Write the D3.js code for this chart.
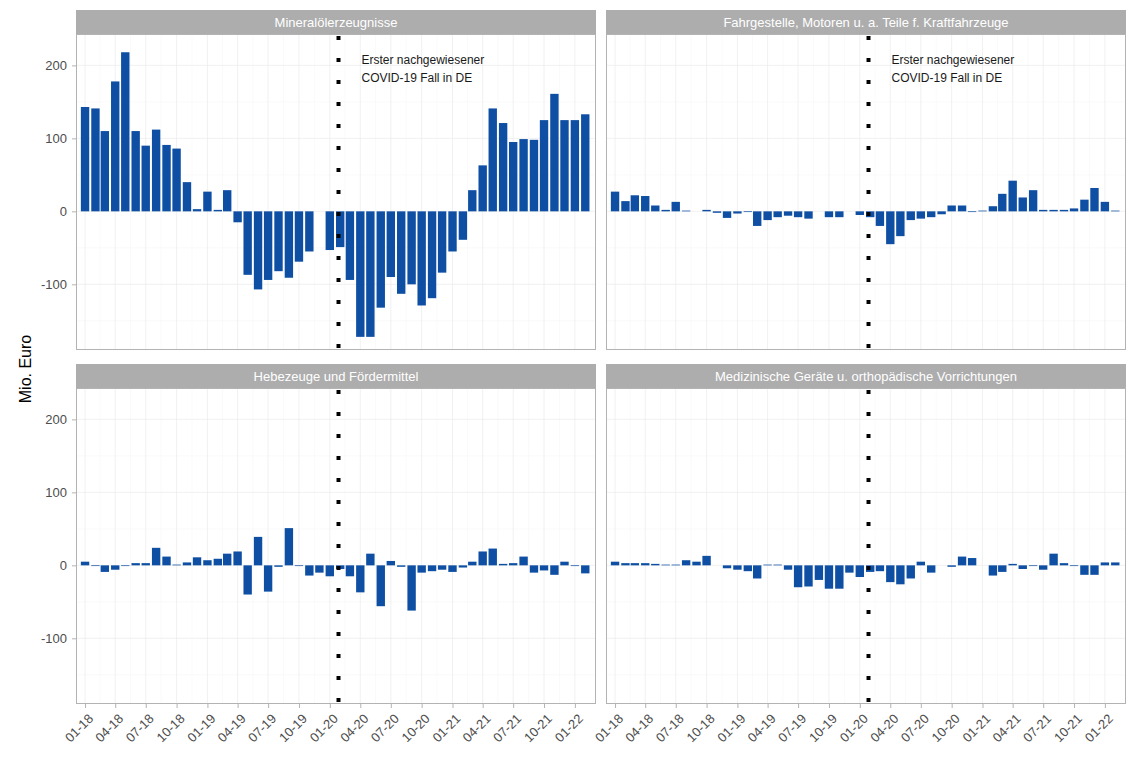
<!DOCTYPE html>
<meta charset="utf-8">
<style>
body { margin: 0; background: #fff; }
svg { font-family: "Liberation Sans", Arial, sans-serif; }
.strip rect { fill: #adadad; }
.strip text { fill: #fff; font-size: 13px; }
.axis text { fill: #4d4d4d; font-size: 13px; }
.axis line { stroke: #b3b3b3; }
.axis path { display: none; }
.grid line { stroke: #ebebeb; stroke-width: 0.7px; }
.grid line.minor { stroke: #f5f5f5; stroke-width: 0.5px; }
.bar { fill: #0e4fa3; }
.border { fill: none; stroke: #b3b3b3; stroke-width: 1px; }
.note { fill: #1a1a1a; font-size: 12px; }
</style>
<body>
<svg width="1126" height="762" id="chart"></svg>
<script src="https://d3js.org/d3.v7.min.js"></script>
<script>

// panel titles (facet order: row by row)
var titles = [
    "Mineralölerzeugnisse",
    "Fahrgestelle, Motoren u. a. Teile f. Kraftfahrzeuge",
    "Hebezeuge und Fördermittel",
    "Medizinische Geräte u. orthopädische Vorrichtungen"
];

// monthly values in Mio. Euro, 01-2018 .. 02-2022
var mineral = [143, 141, 110, 178, 218, 110, 90, 112, 91, 86,
    40, 3, 27, 2, 29, -15, -87, -107, -94, -82,
    -91, -69, -55, 0, -53, -49, -94, -172, -172, -132,
    -90, -113, -100, -129, -119, -84, -55, -39, 29, 63,
    141, 121, 95, 99, 98, 125, 161, 125, 125, 133];

var fahrgestelle = [27, 14, 22, 21, 8, 2, 13, 1, 0, 2,
    -2, -9, -3, -1, -20, -12, -8, -6, -8, -10,
    0, -8, -8, 0, -5, -8, -20, -45, -34, -12,
    -10, -8, -4, 8, 8, -1, 1, 7, 24, 42,
    19, 29, 2, 2, 2, 4, 16, 32, 13, 1];

var hebezeuge = [5, -1, -9, -6, -1, 3, 3, 24, 12, 1,
    4, 11, 7, 9, 16, 19, -40, 39, -36, -2,
    51, -1, -14, -10, -15, -5, -15, -37, 16, -56,
    6, -2, -62, -10, -8, -6, -9, -3, 5, 19,
    23, 2, 3, 12, -10, -7, -13, 5, -1, -11];

var medizin = [5, 3, 3, 3, 2, 1, 1, 7, 5, 13,
    0, -4, -6, -8, -18, 1, 1, -6, -30, -29,
    -20, -32, -32, -10, -16, -9, -8, -23, -26, -18,
    5, -10, 0, -2, 12, 10, 0, -14, -9, 2,
    -5, -1, -6, 16, 3, -1, -13, -13, 4, 4];

var series = [mineral, fahrgestelle, hebezeuge, medizin];

var firstMonth = new Date(Date.UTC(2018, 0, 1));
var months = d3.utcMonth.range(firstMonth, new Date(Date.UTC(2022, 2, 1)));
var covidDate = new Date(Date.UTC(2020, 0, 27));
var noteLines = ["Erster nachgewiesener", "COVID-19 Fall in DE"];
var yTicks = [-100, 0, 100, 200];
var yMinor = [-150, -50, 50, 150];
var xTicks = d3.utcMonth.every(3).range(firstMonth, new Date(Date.UTC(2022, 1, 1)));

var svg = d3.select("svg");

var panelW = 520,
    panelH = 316,
    stripH = 24,
    colX = [76, 606],
    rowY = [34, 388];

var x = d3.scaleUtc()
    .domain([new Date(Date.UTC(2017, 11, 5)), new Date(Date.UTC(2022, 2, 5))])
    .range([0, panelW]);
var y = d3.scaleLinear()
    .domain([-190, 243])
    .range([panelH, 0]);

var barW = x(new Date(Date.UTC(2018, 0, 26))) - x(firstMonth);

// minor x grid: halfway between the major month ticks
var xMinor = [];
for (var i = 0; i < xTicks.length - 1; i++) {
    xMinor.push(new Date((+xTicks[i] + +xTicks[i + 1]) / 2));
}

series.forEach(function(values, k) {
    var col = k % 2, row = Math.floor(k / 2);
    var g = svg.append("g")
        .attr("transform", "translate(" + colX[col] + "," + rowY[row] + ")");

    // strip
    var strip = g.append("g").attr("class", "strip");
    strip.append("rect")
        .attr("x", 0).attr("y", -stripH)
        .attr("width", panelW).attr("height", stripH);
    strip.append("text")
        .attr("x", panelW / 2).attr("y", -stripH / 2)
        .attr("dy", "0.35em")
        .attr("text-anchor", "middle")
        .text(titles[k]);

    // grid
    var grid = g.append("g").attr("class", "grid");
    grid.selectAll(".hmin").data(yMinor).enter().append("line")
        .attr("class", "minor")
        .attr("x1", 0).attr("x2", panelW)
        .attr("y1", function(d) { return y(d); })
        .attr("y2", function(d) { return y(d); });
    grid.selectAll(".vmin").data(xMinor).enter().append("line")
        .attr("class", "minor")
        .attr("y1", 0).attr("y2", panelH)
        .attr("x1", function(d) { return x(d); })
        .attr("x2", function(d) { return x(d); });
    grid.selectAll(".h").data(yTicks).enter().append("line")
        .attr("x1", 0).attr("x2", panelW)
        .attr("y1", function(d) { return y(d); })
        .attr("y2", function(d) { return y(d); });
    grid.selectAll(".v").data(xTicks).enter().append("line")
        .attr("y1", 0).attr("y2", panelH)
        .attr("x1", function(d) { return x(d); })
        .attr("x2", function(d) { return x(d); });

    // bars
    g.append("g").selectAll("rect")
        .data(values)
        .enter().append("rect")
        .attr("class", "bar")
        .attr("x", function(d, i) { return x(months[i]) - barW / 2; })
        .attr("y", function(d) { return y(Math.max(0, d)); })
        .attr("width", barW)
        .attr("height", function(d) { return Math.abs(y(d) - y(0)); });

    // first covid case
    var cx = x(covidDate);
    g.append("line")
        .attr("x1", cx).attr("x2", cx)
        .attr("y1", 0).attr("y2", panelH)
        .attr("stroke", "#000")
        .attr("stroke-width", 4)
        .attr("stroke-dasharray", "4,18")
        .attr("stroke-dashoffset", 20);

    if (row == 0) {
        g.append("g").selectAll("text")
            .data(noteLines)
            .enter().append("text")
            .attr("class", "note")
            .attr("x", cx + 23)
            .attr("y", function(d, i) { return 30 + i * 18; })
            .text(function(d) { return d; });
    }

    g.append("rect")
        .attr("class", "border")
        .attr("x", 0.5).attr("y", 0.5)
        .attr("width", panelW - 1).attr("height", panelH - 1);

    if (col == 0) {
        g.append("g")
            .attr("class", "axis")
            .call(d3.axisLeft(y).tickValues(yTicks).tickSize(4).tickPadding(5)
                .tickFormat(function(d) { return String(d); }));
    }
    if (row == 1) {
        var ax = g.append("g")
            .attr("class", "axis")
            .attr("transform", "translate(0," + panelH + ")")
            .call(d3.axisBottom(x).tickValues(xTicks).tickSize(4).tickFormat(d3.utcFormat("%m-%y")));
        ax.selectAll("text")
            .attr("text-anchor", "end")
            .attr("x", 0).attr("y", 0)
            .attr("dy", "0.7em")
            .attr("transform", "translate(2,9) rotate(-45)");
    }
});

svg.append("text")
    .attr("transform", "translate(25," + (rowY[0] + (rowY[1] + panelH - rowY[0]) / 2) + ") rotate(-90)")
    .attr("text-anchor", "middle")
    .attr("dy", "0.35em")
    .attr("font-size", 16)
    .attr("fill", "#000")
    .text("Mio. Euro");

</script>
</body>
